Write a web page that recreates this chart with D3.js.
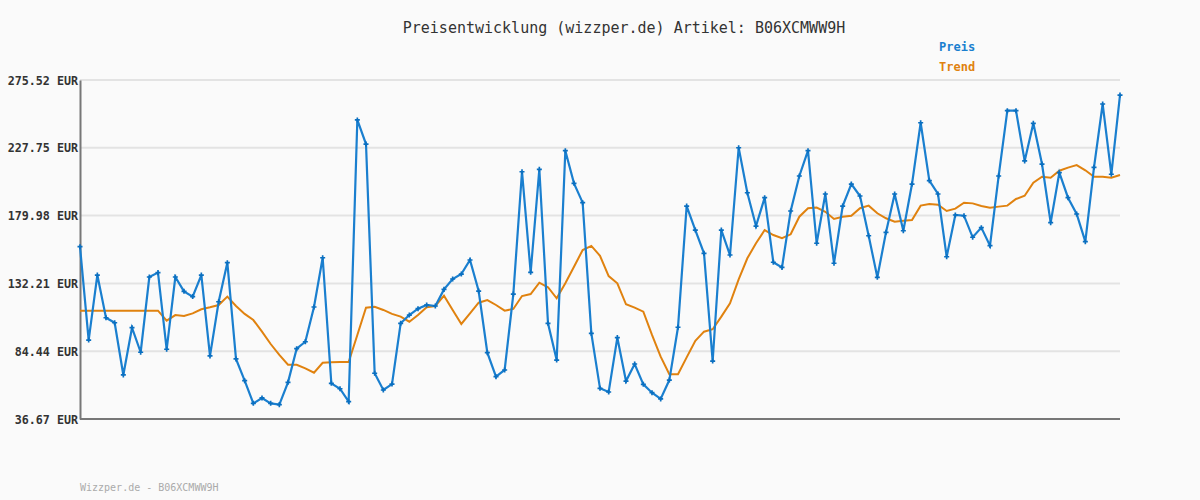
<!DOCTYPE html>
<html>
<head>
<meta charset="utf-8">
<script src="https://cdn.jsdelivr.net/npm/d3@7"></script>
<style>
  body { margin: 0; background: #fafafa; }
  text { font-family: "DejaVu Sans Mono", monospace; }
</style>
</head>
<body>
<svg id="chart" width="1200" height="500"></svg>
<script>
const yTicks = [36.67, 84.44, 132.21, 179.98, 227.75, 275.52]

const preis = [158.1, 92.3, 138.1, 108.0, 104.5, 67.7, 101.0, 83.7, 136.7, 139.8,
  85.8, 136.7, 126.6, 122.9, 138.1, 81.1, 119.3, 146.8, 79.0, 63.7,
  47.7, 51.5, 47.7, 46.8, 62.5, 86.2, 91.1, 115.6, 150.3, 61.8,
  58.0, 48.9, 247.4, 230.4, 68.9, 57.1, 61.3, 104.1, 109.9, 114.4,
  117.0, 116.3, 128.0, 135.3, 138.8, 148.7, 126.8, 83.4, 66.5, 71.2,
  124.7, 210.9, 140.0, 212.6, 104.1, 78.2, 225.7, 202.7, 189.1, 97.0,
  58.3, 55.7, 94.0, 63.4, 75.4, 61.1, 55.2, 50.8, 64.1, 101.3,
  186.7, 169.8, 153.4, 77.5, 169.8, 152.2, 227.8, 196.1, 172.6, 192.6,
  147.1, 143.5, 183.2, 207.9, 225.7, 160.5, 195.2, 146.4, 186.7, 202.2,
  193.8, 165.8, 136.5, 168.2, 195.2, 169.3, 202.2, 245.4, 204.6, 195.2,
  151.0, 180.4, 179.9, 164.7, 171.5, 158.8, 207.9, 253.9, 253.9, 218.5,
  245.0, 216.3, 175.0, 210.2, 192.6, 181.1, 161.6, 214.0, 258.6, 209.1, 264.9]

const trend = [113.0, 113.0, 113.0, 113.0, 113.0, 113.0, 113.0, 113.0, 113.0, 113.0,
  106.0, 109.9, 109.2, 111.1, 114.0, 115.4, 117.0, 122.9, 116.3, 110.7,
  106.4, 98.2, 89.5, 81.8, 74.9, 74.9, 72.4, 69.3, 76.3, 76.6,
  76.8, 76.8, 95.9, 115.1, 115.8, 113.5, 110.7, 108.8, 105.2, 109.9,
  115.4, 116.3, 123.6, 113.5, 103.6, 111.1, 118.6, 120.5, 117.0, 113.0,
  114.2, 123.3, 124.7, 132.7, 129.5, 121.7, 132.3, 144.0, 155.7, 158.6,
  151.7, 137.4, 132.3, 117.5, 115.1, 112.3, 95.9, 80.6, 68.2, 68.2,
  80.1, 91.8, 98.2, 99.9, 108.8, 118.2, 135.1, 149.9, 160.5, 169.8,
  166.3, 164.0, 166.8, 179.2, 185.2, 185.6, 182.7, 177.6, 179.2, 179.9,
  185.2, 187.0, 181.6, 178.1, 175.7, 176.4, 176.9, 187.0, 188.2, 187.7,
  183.2, 184.9, 189.1, 188.6, 186.7, 185.6, 186.3, 187.0, 191.7, 194.0,
  203.2, 207.4, 206.7, 211.6, 213.8, 215.6, 211.9, 207.4, 207.4, 206.7, 208.6]

const svg = d3.select('#chart')
const m = { left: 80, right: 1120, top: 80, bottom: 419 }

const x = d3.scaleLinear().domain([0, preis.length - 1]).range([m.left, m.right])
const y = d3.scaleLinear().domain([yTicks[0], yTicks[yTicks.length - 1]]).range([m.bottom, m.top])

// grid
svg.append('g').selectAll('line')
  .data(yTicks.slice(1))
  .join('line')
  .attr('x1', m.left).attr('x2', m.right)
  .attr('y1', d => y(d)).attr('y2', d => y(d))
  .attr('stroke', '#e3e3e3').attr('stroke-width', 2)

// axes
const yAxis = svg.append('g')
  .attr('transform', `translate(${m.left},0)`)
  .call(d3.axisLeft(y).tickValues(yTicks).tickSize(0).tickFormat(d => d.toFixed(2) + ' EUR'))
yAxis.select('.domain').attr('stroke', '#777').attr('stroke-width', 2)
yAxis.selectAll('.tick text').attr('font-size', 11.7).attr('fill', '#333')
  .attr('font-weight', 'bold').attr('x', -2).attr('dy', '0.35em')

svg.append('line')
  .attr('x1', m.left).attr('x2', m.right)
  .attr('y1', m.bottom).attr('y2', m.bottom)
  .attr('stroke', '#777').attr('stroke-width', 2)

const line = d3.line().x((d, i) => x(i)).y(d => y(d))

svg.append('path').datum(trend)
  .attr('d', line).attr('fill', 'none')
  .attr('stroke', '#e0820f').attr('stroke-width', 2)

svg.append('path').datum(preis)
  .attr('d', line).attr('fill', 'none')
  .attr('stroke', '#1a7fcf').attr('stroke-width', 2.2)

svg.append('g').selectAll('path')
  .data(preis)
  .join('path')
  .attr('d', d3.symbol(d3.symbolCross, 14))
  .attr('transform', (d, i) => `translate(${x(i)},${y(d)})`)
  .attr('fill', '#0a6fc0')

// title, legend, footer
svg.append('text').attr('x', 624).attr('y', 33).attr('text-anchor', 'middle')
  .attr('font-size', 15).attr('fill', '#333')
  .text('Preisentwicklung (wizzper.de) Artikel: B06XCMWW9H')

svg.append('text').attr('x', 939).attr('y', 51).attr('font-size', 12)
  .attr('font-weight', 'bold').attr('fill', '#1a7fcf').text('Preis')
svg.append('text').attr('x', 939).attr('y', 71).attr('font-size', 12)
  .attr('font-weight', 'bold').attr('fill', '#e0820f').text('Trend')

svg.append('text').attr('x', 80).attr('y', 491).attr('font-size', 10)
  .attr('fill', '#aaa').text('Wizzper.de - B06XCMWW9H')
</script>
</body>
</html>
